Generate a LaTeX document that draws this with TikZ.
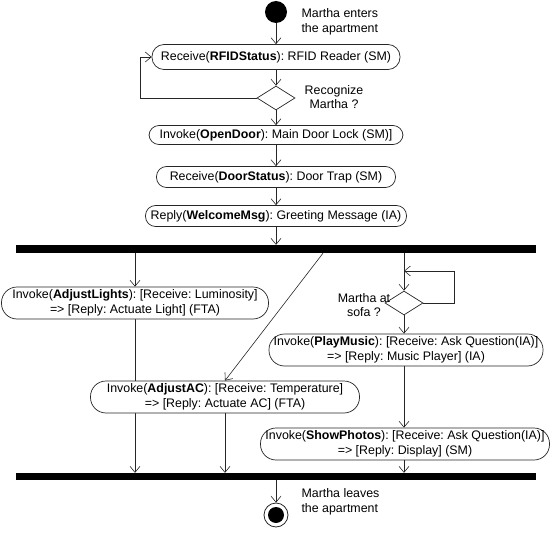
\documentclass[tikz,border=0pt]{standalone}
\usepackage{fontspec}
\setmainfont{Liberation Sans}
\frenchspacing
\usetikzlibrary{shapes.geometric,arrows.meta,backgrounds}

\tikzset{
	act/.style={draw=black!85, line width=0.7pt, fill=white, inner sep=0pt, align=center, font=\fontsize{12.4}{15}\selectfont},
	oneline/.style={minimum height=21pt, rounded corners=10pt},
	twoline/.style={minimum height=32pt, rounded corners=15.5pt},
	decide/.style={draw=black!85, line width=0.7pt, diamond, inner sep=0pt, minimum width=38pt, minimum height=24pt},
	bar/.style={fill=black, inner sep=0pt, minimum width=520pt, minimum height=8pt},
	flow/.style={draw=black!85, line width=0.6pt, -{Straight Barb[length=6pt,width=10pt]}},
	note/.style={align=left, font=\fontsize{12.4}{14.5}\selectfont},
}

\begin{document}
\begin{tikzpicture}[x=1pt,y=-1pt]
			%%%%% START %%%%%
			\useasboundingbox (0,0) rectangle (552,535);
			
			\node[circle, fill=black, minimum size=22pt, inner sep=0pt] (start) at (276,12) {};
			\node[note, anchor=west] (entertxt) at (298,22) {Martha enters\\the apartment};
			
			\node[act, minimum width=248pt, minimum height=25pt, rounded corners=12pt] (rfid) at (276,57) {Receive(\textbf{RFIDStatus}): RFID Reader (SM)};
			\node[decide] (recog) at (276,98) {};
			\node[note, align=center] (recogtxt) at (334,97) {Recognize\\Martha ?};
			
			\node[act, oneline, minimum width=254pt, minimum height=19pt] (opendoor) at (276,135) {Invoke(\textbf{OpenDoor}): Main Door Lock (SM)]};
			\node[act, oneline, minimum width=239pt] (doorstatus) at (276,177) {Receive(\textbf{DoorStatus}): Door Trap (SM)};
			\node[act, oneline, minimum width=261pt] (welcome) at (276,216) {Reply(\textbf{WelcomeMsg}): Greeting Message (IA)};
			
			\node[bar] (fork) at (276,249) {};
			
			\node[act, twoline, minimum width=267pt] (lights) at (135,303) {Invoke(\textbf{AdjustLights}): [Receive: Luminosity]\\=> [Reply: Actuate Light] (FTA)};
			\node[decide] (sofa) at (404,303) {};
			\node[note, align=center] (sofatxt) at (364,305) {Martha at\\sofa ?};
			\node[act, twoline, minimum width=274pt] (music) at (406,350) {Invoke(\textbf{PlayMusic}): [Receive: Ask Question(IA)]\\=> [Reply: Music Player] (IA)};
			\node[act, twoline, minimum width=269pt] (ac) at (225,397) {Invoke(\textbf{AdjustAC}): [Receive: Temperature]\\=> [Reply: Actuate AC] (FTA)};
			\node[act, twoline, minimum width=289pt] (photos) at (405,444) {Invoke(\textbf{ShowPhotos}): [Receive: Ask Question(IA)]\\=> [Reply: Display] (SM)};
			
			\node[bar, minimum height=7pt] (join) at (276,476.5) {};
			
			\node[circle, draw=black!85, line width=0.8pt, minimum size=24pt, inner sep=0pt] (end) at (276,515) {};
			\fill (end.center) circle (8pt);
			\node[note, anchor=west] (leavetxt) at (298,502) {Martha leaves\\the apartment};
			
			\coordinate (sofain) at (404,271);
			
			\draw[flow] (start) -- (rfid);
			\draw[flow] (rfid) -- (recog);
			\draw[flow] (recog.west) -- ++(-116,0) |- (rfid.west);
			\draw[flow] (recog) -- (opendoor);
			\draw[flow] (opendoor) -- (doorstatus);
			\draw[flow] (doorstatus) -- (welcome);
			\draw[flow] (welcome.south) -- (welcome.south |- fork.north);
			
			\draw[flow] (fork.south -| lights.north) -- (lights.north);
			\draw[flow] ([xshift=47pt]fork.south) -- (ac.north);
			\draw[flow] (fork.south -| sofa.north) -- (sofa.north);
			\draw[flow] (sofa.east) -- ++(31,0) |- (sofain);
			\draw[flow] (sofa.south) -- (sofa.south |- music.north);
			\draw[flow] (sofa.south |- music.south) -- (sofa.south |- photos.north);
			
			\begin{pgfonlayer}{background}
			\draw[flow] (lights.south) -- (lights.south |- join.north);
			\end{pgfonlayer}
			\draw[flow] (ac.south) -- (ac.south |- join.north);
			\draw[flow] (sofa.south |- photos.south) -- (sofa.south |- join.north);
			\draw[flow] (join.south) -- (end);
			
			%%%%% END %%%%%
\end{tikzpicture}
\end{document}
